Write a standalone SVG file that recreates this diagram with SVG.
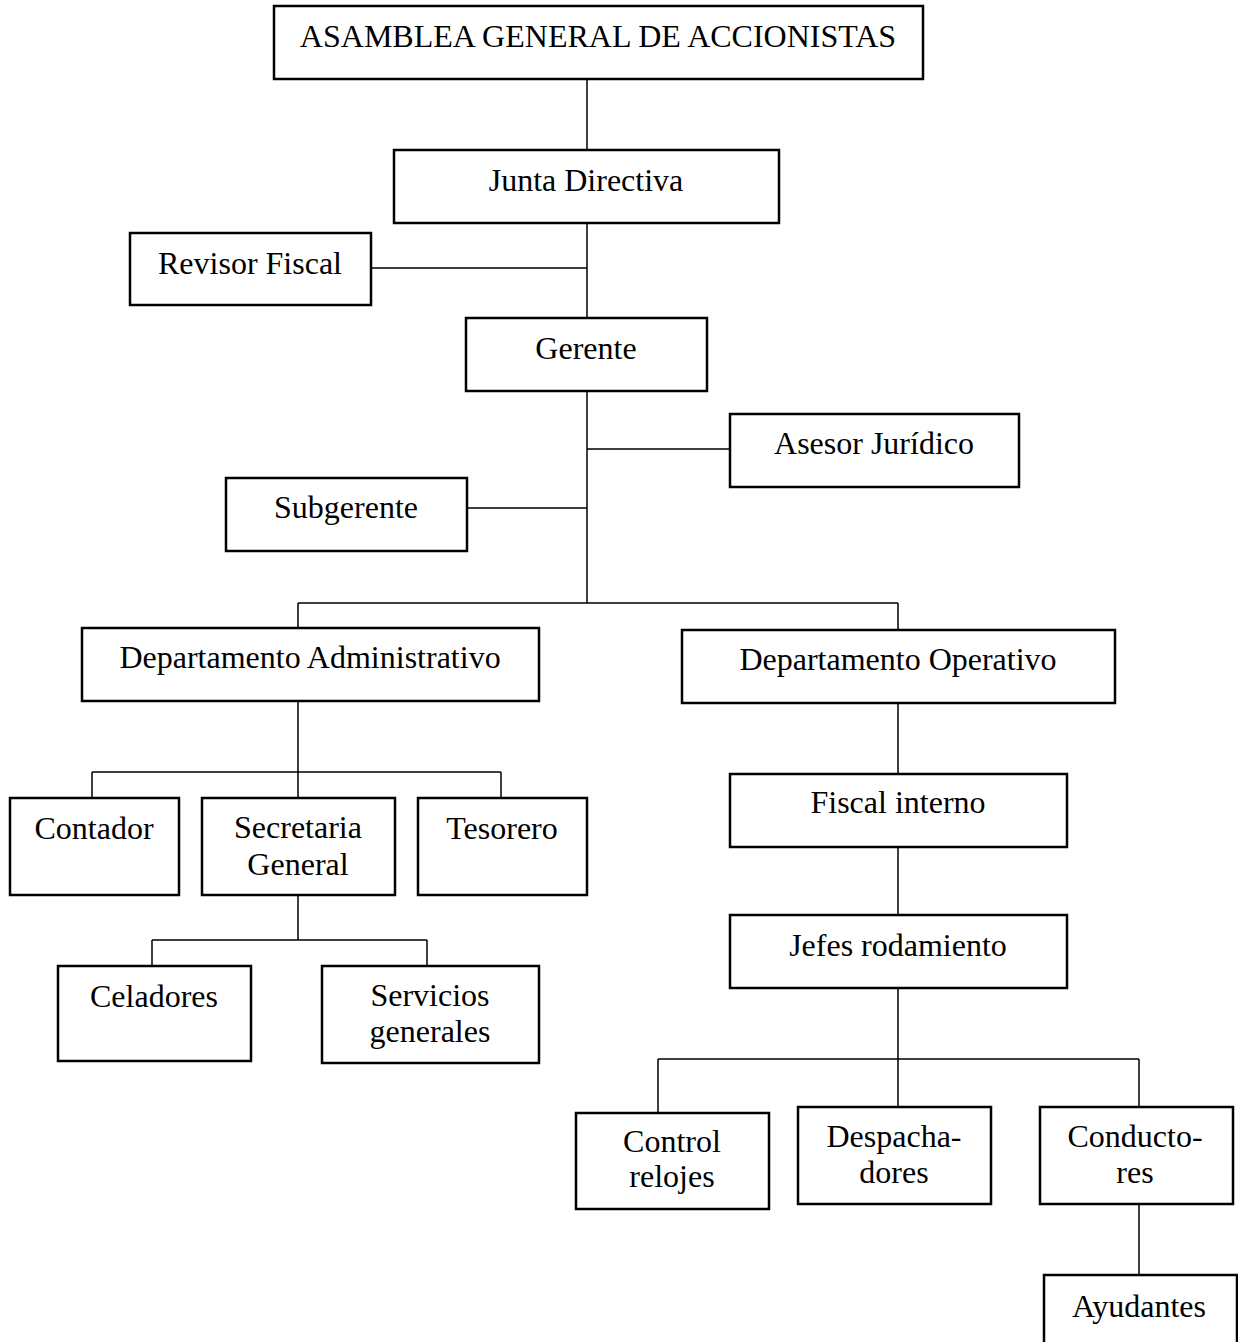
<svg xmlns="http://www.w3.org/2000/svg" width="1238" height="1342" viewBox="0 0 1238 1342">
<style>
.box{fill:#fff;stroke:#000;stroke-width:2.5}
.ln{stroke:#000;stroke-width:1.5;fill:none}
text{font-family:"Liberation Serif","Times New Roman",serif;font-size:32px;fill:#000;text-anchor:middle}
</style>
<rect width="1238" height="1342" fill="#fff"/>
<g id="connectors">
<path class="ln" d="M587 79V150M587 223V318M371 268H587M587 391V603M587 449H730M467 508H587"/>
<path class="ln" d="M298 603H898M298 603V628M898 603V630"/>
<path class="ln" d="M298 701V772M92 772H501M92 772V798M298 772V798M501 772V798"/>
<path class="ln" d="M298 895V940M152 940H427M152 940V966M427 940V966"/>
<path class="ln" d="M898 703V774M898 847V915M898 988V1059M658 1059H1139M658 1059V1113M898 1059V1107M1139 1059V1107M1139 1204V1275"/>
</g>
<g id="asamblea"><rect class="box" x="274" y="6" width="649" height="73"/><text x="598" y="47">ASAMBLEA GENERAL DE ACCIONISTAS</text></g>
<g id="junta"><rect class="box" x="394" y="150" width="385" height="73"/><text x="586" y="191">Junta Directiva</text></g>
<g id="revisor"><rect class="box" x="130" y="233" width="241" height="72"/><text x="250" y="274">Revisor Fiscal</text></g>
<g id="gerente"><rect class="box" x="466" y="318" width="241" height="73"/><text x="586" y="359">Gerente</text></g>
<g id="asesor"><rect class="box" x="730" y="414" width="289" height="73"/><text x="874" y="454">Asesor Jurídico</text></g>
<g id="subgerente"><rect class="box" x="226" y="478" width="241" height="73"/><text x="346" y="518">Subgerente</text></g>
<g id="depadmin"><rect class="box" x="82" y="628" width="457" height="73"/><text x="310" y="668">Departamento Administrativo</text></g>
<g id="depoper"><rect class="box" x="682" y="630" width="433" height="73"/><text x="898" y="670">Departamento Operativo</text></g>
<g id="contador"><rect class="box" x="10" y="798" width="169" height="97"/><text x="94" y="839">Contador</text></g>
<g id="secretaria"><rect class="box" x="202" y="798" width="193" height="97"/><text x="298" y="838">Secretaria</text><text x="298" y="875">General</text></g>
<g id="tesorero"><rect class="box" x="418" y="798" width="169" height="97"/><text x="502" y="839">Tesorero</text></g>
<g id="celadores"><rect class="box" x="58" y="966" width="193" height="95"/><text x="154" y="1007">Celadores</text></g>
<g id="servicios"><rect class="box" x="322" y="966" width="217" height="97"/><text x="430" y="1006">Servicios</text><text x="430" y="1042">generales</text></g>
<g id="fiscal"><rect class="box" x="730" y="774" width="337" height="73"/><text x="898" y="813">Fiscal interno</text></g>
<g id="jefes"><rect class="box" x="730" y="915" width="337" height="73"/><text x="898" y="956">Jefes rodamiento</text></g>
<g id="control"><rect class="box" x="576" y="1113" width="193" height="96"/><text x="672" y="1152">Control</text><text x="672" y="1187">relojes</text></g>
<g id="despacha"><rect class="box" x="798" y="1107" width="193" height="97"/><text x="894" y="1147">Despacha-</text><text x="894" y="1183">dores</text></g>
<g id="conductores"><rect class="box" x="1040" y="1107" width="193" height="97"/><text x="1135" y="1147">Conducto-</text><text x="1135" y="1183">res</text></g>
<g id="ayudantes"><rect class="box" x="1044" y="1275" width="193" height="100"/><text x="1139" y="1317">Ayudantes</text></g>
</svg>
